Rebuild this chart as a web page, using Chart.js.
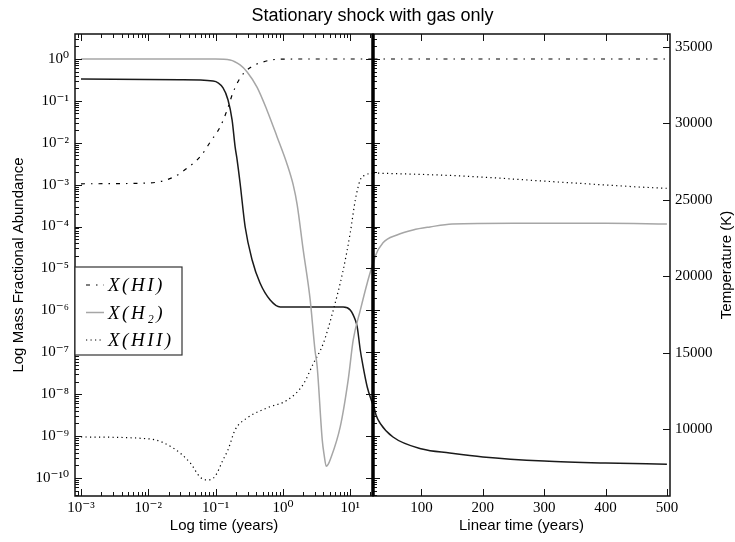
<!DOCTYPE html>
<html>
<head>
<meta charset="utf-8">
<script src="https://cdn.jsdelivr.net/npm/chart.js@4.4.1/dist/chart.umd.min.js"></script>
<style>
  body { margin: 0; background: #fff; width: 735px; height: 542px; position: relative; overflow: hidden; }
  #left { position: absolute; left: 0; top: 0; }
  #right { position: absolute; left: 366px; top: 0; }
  #title { position: absolute; left: 0; top: 5px; width: 745px; text-align: center;
           font: 18px "Liberation Sans", Arial, sans-serif; line-height: 20px; color: #000; }
</style>
</head>
<body>
<canvas id="left" width="380" height="542"></canvas>
<canvas id="right" width="369" height="542"></canvas>
<div id="title">Stationary shock with gas only</div>
<script>
// ---- log-time panel (years) ----
const tHI_log  = [0.001, 0.0106, 0.0233, 0.038, 0.06, 0.085, 0.117, 0.148, 0.182, 0.231, 0.324, 0.51, 0.81, 2.0, 21.8];
const xHI_log  = [1.05e-3, 1.1e-3, 1.5e-3, 2.5e-3, 4.8e-3, 1.1e-2, 2.4e-2, 6.0e-2, 0.16, 0.35, 0.62, 0.85, 0.98, 1.0, 1.0];

const tH2_log  = [0.001, 0.1, 0.164, 0.231, 0.294, 0.414, 0.58, 0.82, 1.16, 1.42, 1.63, 2.0, 2.54, 3.0, 3.23, 3.84, 4.1, 4.4, 4.7, 5.04, 7.1, 9.33, 11.1, 14.1, 17.9, 21.8];
const xH2_log  = [1.0, 1.0, 0.95, 0.72, 0.49, 0.21, 0.06, 0.0138, 3.0e-3, 1.0e-3, 3.3e-4, 2.8e-5, 1.8e-6, 1.1e-7, 4.5e-8, 8.1e-10, 3.5e-10, 1.9e-10, 2.1e-10, 2.7e-10, 1.65e-9, 2.2e-8, 2.0e-7, 1.0e-6, 4.5e-6, 1.35e-5];

const tHII_log = [0.001, 0.0106, 0.0233, 0.0418, 0.0589, 0.0748, 0.0984, 0.129, 0.153, 0.195, 0.294, 0.583, 1.16, 2.0, 2.82, 3.97, 5.59, 7.87, 10, 11.9, 14.1, 16.7, 21.8];
const xHII_log = [9.5e-10, 8.5e-10, 5.2e-10, 2.3e-10, 1.05e-10, 8.9e-11, 1.1e-10, 2.7e-10, 4.7e-10, 1.4e-9, 2.7e-9, 4.7e-9, 7.2e-9, 1.7e-8, 5.3e-8, 1.6e-7, 1.0e-6, 9.2e-6, 7.0e-5, 4.3e-4, 1.3e-3, 1.7e-3, 1.9e-3];

const tT_log   = [0.001, 0.0296, 0.0918, 0.129, 0.153, 0.176, 0.195, 0.209, 0.231, 0.275, 0.349, 0.457, 0.647, 0.915, 1.62, 7.87, 10, 11.9, 12.7, 14.1, 15.2, 17.9, 21.8];
const temp_log = [32900, 32850, 32780, 32320, 31530, 30220, 28460, 27600, 26100, 23220, 21060, 19550, 18440, 17980, 17980, 17980, 17790, 17130, 16680, 15170, 14320, 12750, 11570];

// ---- linear-time panel (years) ----
const tHI_lin  = [21.8, 250, 500];
const xHI_lin  = [1.0, 1.0, 1.0];
const tH2_lin  = [21.8, 24.3, 37.3, 60.1, 86.2, 113.9, 150, 250, 400, 500];
const xH2_lin  = [1.35e-5, 1.9e-5, 4.1e-5, 6.3e-5, 8.3e-5, 9.8e-5, 1.15e-4, 1.2e-4, 1.2e-4, 1.15e-4];
const tHII_lin = [21.8, 162.8, 325.8, 488.7, 500];
const xHII_lin = [1.9e-3, 1.62e-3, 1.15e-3, 8.3e-4, 8.2e-4];
const tT_lin   = [21.8, 25.9, 32.4, 53.6, 100.9, 146, 200, 300, 400, 500];
const temp_lin = [11570, 10920, 10390, 9475, 8690, 8430, 8170, 7900, 7770, 7700];

const linTimeTicks = [100, 200, 300, 400, 500];
const tempTicks = [10000, 15000, 20000, 25000, 30000, 35000];
const abundRange = [3.7e-11, 3.95];
const tempRange = [5615, 35850];

const SUP = {'-': '\u207B', '0': '\u2070', '1': '\u00B9', '2': '\u00B2', '3': '\u00B3', '4': '\u2074',
             '5': '\u2075', '6': '\u2076', '7': '\u2077', '8': '\u2078', '9': '\u2079'};
function decadeLabel(v) {
  const e = Math.log10(v), r = Math.round(e);
  if (Math.abs(e - r) > 1e-6) return '';
  return '10' + String(r).split('').map(c => SUP[c]).join('');
}
const pts = (t, v) => t.map((x, i) => ({x: x, y: v[i]}));

const tickFont = {family: '"Liberation Serif", "DejaVu Serif", serif', size: 15};
const labelFont = {family: '"Liberation Sans", Arial, sans-serif', size: 15};

function series(label, data, axis, color, width, dash) {
  return {
    label: label, data: data, yAxisID: axis,
    borderColor: color, borderWidth: width, borderDash: dash,
    pointRadius: 0, fill: false, cubicInterpolationMode: 'monotone',
    inLegend: axis === 'y'
  };
}

function logTicks(sc, minor) {
  const out = [];
  const lo = Math.floor(Math.log10(sc.min)), hi = Math.ceil(Math.log10(sc.max));
  for (let e = lo; e <= hi; e++) {
    for (let k = 1; k <= (minor ? 9 : 1); k++) {
      const v = k * Math.pow(10, e);
      if (v >= sc.min && v <= sc.max) out.push({v: v, major: k === 1});
    }
  }
  return out;
}

// inward tick marks, frame, legend box and rotated side title
const decor = {
  id: 'decor',
  afterDatasetsDraw(chart, args, o) {
    const ctx = chart.ctx, a = chart.chartArea;
    ctx.save();
    ctx.strokeStyle = '#111';
    ctx.lineWidth = 1;
    for (const side of ['left', 'right', 'top', 'bottom']) {
      const s = o[side];
      if (!s) continue;
      const sc = chart.scales[s.axis];
      const list = sc.type === 'logarithmic' ? logTicks(sc, s.minor)
                 : sc.ticks.map(t => ({v: t.value, major: true}));
      for (const t of list) {
        const p = Math.round(sc.getPixelForValue(t.v)) + 0.5;
        const len = t.major ? 7 : 4;
        ctx.beginPath();
        if (side === 'left') { ctx.moveTo(a.left, p); ctx.lineTo(a.left + len, p); }
        if (side === 'right') { ctx.moveTo(a.right, p); ctx.lineTo(a.right - len, p); }
        if (side === 'top') { ctx.moveTo(p, a.top); ctx.lineTo(p, a.top + len); }
        if (side === 'bottom') { ctx.moveTo(p, a.bottom); ctx.lineTo(p, a.bottom - len); }
        ctx.stroke();
      }
    }
    ctx.lineWidth = 1.5;
    ctx.strokeRect(a.left, a.top, a.right - a.left, a.bottom - a.top);
    if (o.divider) {
      ctx.lineWidth = 3.5;
      ctx.strokeStyle = '#000';
      ctx.beginPath(); ctx.moveTo(a.left, a.top); ctx.lineTo(a.left, a.bottom); ctx.stroke();
    }
    if (o.legend) {
      const L = o.legend;
      ctx.fillStyle = '#fff';
      ctx.fillRect(a.left, L.top, L.width, L.height);
      ctx.strokeStyle = '#333';
      ctx.lineWidth = 1.2;
      ctx.strokeRect(a.left, L.top, L.width, L.height);
      chart.data.datasets.filter(d => d.inLegend).forEach((d, i) => {
        const y = L.top + 18 + i * 27.5;
        ctx.strokeStyle = d.borderColor;
        ctx.lineWidth = d.borderWidth;
        ctx.setLineDash(d.borderDash || []);
        ctx.beginPath(); ctx.moveTo(a.left + 11, y); ctx.lineTo(a.left + 29, y); ctx.stroke();
        ctx.setLineDash([]);
        ctx.fillStyle = '#000';
        ctx.font = 'italic 19px "Liberation Serif", serif';
        if ('letterSpacing' in ctx) ctx.letterSpacing = '2.5px';
        ctx.textBaseline = 'middle';
        ctx.textAlign = 'left';
        ctx.fillText(d.label, a.left + 33, y + 1);
        if ('letterSpacing' in ctx) ctx.letterSpacing = '0px';
      });
    }
    if (o.sideTitle) {
      ctx.translate(o.sideTitle.x, (a.top + a.bottom) / 2);
      ctx.rotate(-Math.PI / 2);
      ctx.fillStyle = '#000';
      ctx.font = '15px "Liberation Sans", Arial, sans-serif';
      ctx.textAlign = 'center';
      ctx.textBaseline = 'middle';
      ctx.fillText(o.sideTitle.text, 0, 0);
    }
    ctx.restore();
  }
};

const common = {
  responsive: false,
  animation: false,
  events: [],
  plugins: {legend: {display: false}, tooltip: {enabled: false}}
};

new Chart(document.getElementById('left'), {
  type: 'line',
  data: {
    datasets: [
      series('X(HI)', pts(tHI_log, xHI_log), 'y', '#000', 1.2, [4, 6, 1.5, 6]),
      series('X(H\u2082)', pts(tH2_log, xH2_log), 'y', '#a6a6a6', 1.5, []),
      series('X(HII)', pts(tHII_log, xHII_log), 'y', '#000', 1.2, [1.2, 3.3]),
      series('T', pts(tT_log, temp_log), 'yT', '#1a1a1a', 1.5, [])
    ]
  },
  options: Object.assign({}, common, {
    layout: {padding: {top: 34, right: 7, left: 0, bottom: 0}},
    scales: {
      x: {
        type: 'logarithmic', position: 'bottom', min: 8.15e-4, max: 21.8,
        grid: {display: false, drawTicks: false}, border: {display: false},
        afterFit: s => { s.height = 46; },
        ticks: {autoSkip: false, maxRotation: 0, minRotation: 0, padding: 3, color: '#000',
                font: tickFont, callback: v => decadeLabel(v)},
        title: {display: true, text: 'Log time (years)', color: '#000', font: labelFont,
                padding: {top: 0, bottom: 7}}
      },
      y: {
        type: 'logarithmic', position: 'left', min: abundRange[0], max: abundRange[1],
        grid: {display: false, drawTicks: false}, border: {display: false},
        afterFit: s => { s.width = 75; },
        ticks: {autoSkip: false, padding: 6, color: '#000', font: tickFont,
                callback: v => decadeLabel(v)},
        title: {display: true, text: 'Log Mass Fractional Abundance', color: '#000', font: labelFont,
                padding: {top: 10, bottom: 0}}
      },
      yT: {type: 'linear', display: false, min: tempRange[0], max: tempRange[1]}
    },
    plugins: Object.assign({}, common.plugins, {
      decor: {
        left: {axis: 'y', minor: true},
        right: {axis: 'y', minor: false},
        top: {axis: 'x', minor: true},
        bottom: {axis: 'x', minor: true},
        legend: {top: 267, width: 107, height: 88}
      }
    })
  }),
  plugins: [decor]
});

new Chart(document.getElementById('right'), {
  type: 'line',
  data: {
    datasets: [
      series('X(HI)', pts(tHI_lin, xHI_lin), 'y', '#000', 1.2, [4, 6, 1.5, 6]),
      series('X(H\u2082)', pts(tH2_lin, xH2_lin), 'y', '#a6a6a6', 1.5, []),
      series('X(HII)', pts(tHII_lin, xHII_lin), 'y', '#000', 1.2, [1.2, 3.3]),
      series('T', pts(tT_lin, temp_lin), 'yT', '#1a1a1a', 1.5, [])
    ]
  },
  options: Object.assign({}, common, {
    layout: {padding: {top: 34, right: 0, left: 7, bottom: 0}},
    scales: {
      x: {
        type: 'linear', position: 'bottom', min: 21, max: 505,
        grid: {display: false, drawTicks: false}, border: {display: false},
        afterFit: s => { s.height = 46; },
        afterBuildTicks: s => { s.ticks = linTimeTicks.map(v => ({value: v})); },
        ticks: {autoSkip: false, maxRotation: 0, padding: 3,
                color: '#000', font: tickFont, callback: v => String(v)},
        title: {display: true, text: 'Linear time (years)', color: '#000', font: labelFont,
                padding: {top: 0, bottom: 7}}
      },
      y: {type: 'logarithmic', display: false, min: abundRange[0], max: abundRange[1]},
      yT: {
        type: 'linear', position: 'right', min: tempRange[0], max: tempRange[1],
        grid: {display: false, drawTicks: false}, border: {display: false},
        afterFit: s => { s.width = 65; },
        afterBuildTicks: s => { s.ticks = tempTicks.map(v => ({value: v})); },
        ticks: {autoSkip: false, padding: 5, color: '#000',
                font: tickFont, callback: v => String(v)}
      }
    },
    plugins: Object.assign({}, common.plugins, {
      decor: {
        left: {axis: 'y', minor: true},
        right: {axis: 'yT', minor: false},
        top: {axis: 'x'},
        bottom: {axis: 'x'},
        divider: true,
        sideTitle: {x: 361, text: 'Temperature (K)'}
      }
    })
  }),
  plugins: [decor]
});
</script>
</body>
</html>
